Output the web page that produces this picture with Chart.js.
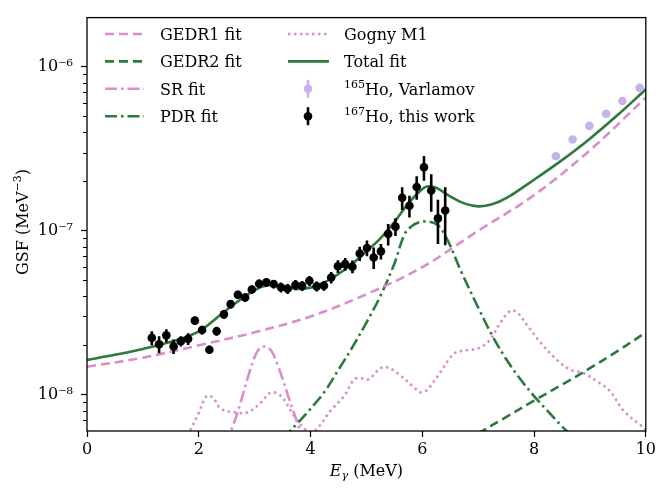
<!DOCTYPE html>
<html><head><meta charset="utf-8">
<script src="https://cdn.jsdelivr.net/npm/chart.js@4/dist/chart.umd.min.js"></script>
<style>html,body{margin:0;padding:0;background:#fff}</style>
</head><body>
<canvas id="c" width="659" height="489" style="width:659px;height:489px;display:block"></canvas>
<script>
// ---------- data ----------
const eExp = [1.16,1.29,1.42,1.55,1.68,1.81,1.93,2.06,2.19,2.32,2.45,2.57,2.70,2.83,2.95,3.08,3.21,3.34,3.47,3.59,3.73,3.85,3.98,4.11,4.24,4.37,4.49,4.62,4.75,4.88,5.01,5.13,5.26,5.39,5.52,5.64,5.77,5.90,6.03,6.16,6.28,6.41];
const gsfExp = [2.22e-8,2.03e-8,2.30e-8,1.97e-8,2.12e-8,2.19e-8,2.83e-8,2.48e-8,1.88e-8,2.44e-8,3.09e-8,3.57e-8,4.07e-8,3.92e-8,4.38e-8,4.75e-8,4.85e-8,4.73e-8,4.52e-8,4.43e-8,4.67e-8,4.61e-8,4.95e-8,4.58e-8,4.62e-8,5.19e-8,6.07e-8,6.26e-8,6.04e-8,7.26e-8,7.85e-8,6.87e-8,7.49e-8,9.57e-8,1.06e-7,1.59e-7,1.42e-7,1.85e-7,2.44e-7,1.76e-7,1.19e-7,1.33e-7];
const errExp = [2.2e-9,2.4e-9,2.1e-9,2.0e-9,1.5e-9,1.8e-9,1.6e-9,1.5e-9,1.1e-9,1.5e-9,1.9e-9,2.1e-9,2.4e-9,2.4e-9,2.6e-9,2.9e-9,2.9e-9,2.8e-9,3.2e-9,3.1e-9,3.3e-9,3.2e-9,3.5e-9,3.2e-9,3.2e-9,4.2e-9,5.5e-9,5.6e-9,5.4e-9,7.3e-9,8.6e-9,1.03e-8,8.2e-9,1.45e-8,1.31e-8,2.51e-8,2.14e-8,3.05e-8,4.17e-8,4.52e-8,3.58e-8,5.13e-8];

const eVarlamov = [8.39,8.69,8.99,9.29,9.58,9.89];
const gsfVarlamov = [2.85e-7,3.61e-7,4.37e-7,5.18e-7,6.19e-7,7.45e-7];

const eTotal = [0,0.5,1,1.5,2,2.5,3,3.25,3.5,3.75,4,4.25,4.5,4.75,5,5.25,5.5,5.75,6,6.1,6.25,6.5,6.75,7,7.25,7.5,8,8.5,9,9.5,10];
const gsfTotal = [1.63e-8,1.75e-8,1.9e-8,2.1e-8,2.43e-8,3.3e-8,4.35e-8,4.65e-8,4.55e-8,4.42e-8,4.5e-8,4.85e-8,5.45e-8,6.3e-8,7.5e-8,9.0e-8,1.13e-7,1.47e-7,1.80e-7,1.87e-7,1.83e-7,1.62e-7,1.47e-7,1.41e-7,1.45e-7,1.58e-7,2.05e-7,2.7e-7,3.65e-7,5.1e-7,7.3e-7];

const eGedr1 = [0,1,2,3,4,5,6,7,8,9,10];
const gsfGedr1 = [1.48e-8,1.68e-8,2.0e-8,2.4e-8,3.0e-8,4.1e-8,6.0e-8,1.0e-7,1.65e-7,3.1e-7,6.5e-7];

const eGedr2 = [7.0,7.5,8.0,8.5,9.0,9.5,10.0];
const gsfGedr2 = [5.8e-9,7.3e-9,9.2e-9,1.15e-8,1.45e-8,1.85e-8,2.4e-8];

const eSr = [2.45,2.6,2.75,2.9,3.0,3.1,3.2,3.3,3.4,3.5,3.6,3.7,3.8,3.9];
const gsfSr = [5.0e-9,6.3e-9,9.0e-9,1.35e-8,1.7e-8,1.93e-8,1.96e-8,1.85e-8,1.55e-8,1.25e-8,9.8e-9,7.8e-9,6.2e-9,5.0e-9];

const ePdr = [3.5,3.75,4.0,4.25,4.5,4.75,5.0,5.25,5.5,5.68,5.8,5.92,6.1,6.28,6.45,6.7,7.0,7.25,7.5,7.75,8.0,8.25,8.5,8.75];
const gsfPdr = [5.4e-9,6.6e-9,8.2e-9,1.04e-8,1.42e-8,1.95e-8,2.75e-8,4.0e-8,6.3e-8,9.5e-8,1.06e-7,1.12e-7,1.14e-7,1.08e-7,8.8e-8,5.6e-8,3.4e-8,2.3e-8,1.65e-8,1.25e-8,9.8e-9,7.9e-9,6.4e-9,5.3e-9];

const eGogny = [1.75,1.84,1.99,2.14,2.25,2.40,2.64,2.88,3.11,3.29,3.47,3.71,3.89,4.0,4.12,4.36,4.60,4.78,4.89,5.04,5.2,5.33,5.56,5.86,5.98,6.10,6.33,6.57,6.81,6.99,7.20,7.40,7.58,7.70,7.88,8.11,8.41,8.65,8.89,9.12,9.36,9.60,9.95,10.0];
const gsfGogny = [5.2e-9,6.0e-9,7.6e-9,9.8e-9,9.6e-9,8.2e-9,7.8e-9,7.8e-9,8.95e-9,1.03e-8,9.8e-9,7.4e-9,6.2e-9,5.9e-9,6.2e-9,8.0e-9,9.8e-9,1.24e-8,1.26e-8,1.24e-8,1.40e-8,1.48e-8,1.35e-8,1.10e-8,1.03e-8,1.08e-8,1.38e-8,1.78e-8,1.87e-8,1.91e-8,2.14e-8,2.76e-8,3.25e-8,3.17e-8,2.64e-8,2.09e-8,1.63e-8,1.42e-8,1.35e-8,1.21e-8,1.05e-8,7.98e-9,6.33e-9,6.1e-9];

const xTicks = [0,2,4,6,8,10];
const yMajor = [1e-8,1e-7,1e-6];
const yMajorLabels = ['10\u207B\u2078','10\u207B\u2077','10\u207B\u2076'];
const yMinor = [7e-9,8e-9,9e-9,2e-8,3e-8,4e-8,5e-8,6e-8,7e-8,8e-8,9e-8,2e-7,3e-7,4e-7,5e-7,6e-7,7e-7,8e-7,9e-7];

// ---------- styles ----------
const PINK = '#da8dcb', GREEN = '#2b7a3c', LAV = '#c5b2ea';
const FONT = '"DejaVu Serif", serif';
const LW = 2.6;

const xy = (xs, ys) => xs.map((x, i) => ({x: x, y: ys[i]}));
const errSegs = (xs, ys, es) => {
  const out = [];
  xs.forEach((x, i) => { out.push({x: x, y: ys[i] - es[i]}, {x: x, y: ys[i] + es[i]}, {x: x, y: null}); });
  return out;
};
const curve = (label, xs, ys, color, dash, order) => ({
  type: 'line', label: label, data: xy(xs, ys), borderColor: color, borderWidth: LW,
  borderDash: dash, borderCapStyle: 'butt', pointRadius: 0, fill: false,
  tension: 0.35, order: order
});

const datasets = [
  curve('GEDR1 fit', eGedr1, gsfGedr1, PINK, [9, 5], 5),
  curve('GEDR2 fit', eGedr2, gsfGedr2, GREEN, [9, 5], 5),
  curve('SR fit', eSr, gsfSr, PINK, [12, 4, 2.5, 4], 5),
  curve('PDR fit', ePdr, gsfPdr, GREEN, [12, 4, 2.5, 4], 5),
  curve('Gogny M1', eGogny, gsfGogny, PINK, [2.5, 3.5], 5),
  curve('Total fit', eTotal, gsfTotal, GREEN, [], 4),
  {type: 'line', label: '165|Ho, Varlamov', data: xy(eVarlamov, gsfVarlamov), showLine: false,
   pointRadius: 4.3, pointBackgroundColor: LAV, pointBorderWidth: 0, borderColor: LAV, order: 2, _marker: true},
  {type: 'line', label: '167|Ho, this work', data: xy(eExp, gsfExp), showLine: false,
   pointRadius: 4.3, pointBackgroundColor: '#000', pointBorderWidth: 0, borderColor: '#000', order: 0, _marker: true},
  {type: 'line', label: '_err', data: errSegs(eExp, gsfExp, errExp), spanGaps: false,
   borderColor: '#000', borderWidth: 2.6, pointRadius: 0, tension: 0, order: 1}
];

// ---------- plugin: frame, minor ticks, axis titles, legend ----------
const extras = {
  id: 'extras',
  afterDraw(chart) {
    const ctx = chart.ctx, a = chart.chartArea, ys = chart.scales.y;
    ctx.save();
    ctx.strokeStyle = '#000'; ctx.lineWidth = 1.3;
    ctx.strokeRect(a.left, a.top, a.right - a.left, a.bottom - a.top);
    ctx.lineWidth = 1;
    yMinor.forEach(v => {
      const p = Math.round(ys.getPixelForValue(v)) + 0.5;
      ctx.beginPath(); ctx.moveTo(a.left - 4, p); ctx.lineTo(a.left, p); ctx.stroke();
    });
    ctx.fillStyle = '#000';
    ctx.textBaseline = 'alphabetic';
    // y title
    ctx.save();
    ctx.translate(28, 222); ctx.rotate(-Math.PI / 2);
    const t1 = 'GSF (MeV', t2 = '\u22123', t3 = ')';
    ctx.font = '16px ' + FONT; const w1 = ctx.measureText(t1).width;
    ctx.font = '11px ' + FONT; const w2 = ctx.measureText(t2).width;
    ctx.font = '16px ' + FONT; const w3 = ctx.measureText(t3).width;
    let x0 = -(w1 + w2 + w3) / 2;
    ctx.textAlign = 'left';
    ctx.fillText(t1, x0, 0);
    ctx.font = '11px ' + FONT; ctx.fillText(t2, x0 + w1, -7);
    ctx.font = '16px ' + FONT; ctx.fillText(t3, x0 + w1 + w2, 0);
    ctx.restore();
    // x title
    ctx.textAlign = 'left';
    ctx.font = 'italic 16px ' + FONT; const e1 = ctx.measureText('E').width;
    ctx.font = 'italic 11px ' + FONT; const e2 = ctx.measureText('\u03B3').width;
    ctx.font = '16px ' + FONT; const e3 = ctx.measureText(' (MeV)').width;
    const cx = (a.left + a.right) / 2;
    let xs = cx - (e1 + e2 + e3) / 2, by = 476;
    ctx.font = 'italic 16px ' + FONT; ctx.fillText('E', xs, by);
    ctx.font = 'italic 11px ' + FONT; ctx.fillText('\u03B3', xs + e1, by + 3);
    ctx.font = '16px ' + FONT; ctx.fillText(' (MeV)', xs + e1 + e2, by);
    // legend
    const rows = [34, 61.4, 88.8, 116.2];
    const cols = [{x0: 105, x1: 144, tx: 160}, {x0: 288, x1: 329, tx: 344}];
    const items = chart.data.datasets.filter(d => d.label !== '_err');
    items.forEach((d, i) => {
      const col = cols[Math.floor(i / 4)], y = rows[i % 4];
      ctx.save();
      if (d._marker) {
        const mx = (col.x0 + col.x1) / 2 - 0.5;
        ctx.strokeStyle = d.pointBackgroundColor; ctx.lineWidth = 2.6;
        ctx.beginPath(); ctx.moveTo(mx, y - 9); ctx.lineTo(mx, y + 9); ctx.stroke();
        ctx.fillStyle = d.pointBackgroundColor;
        ctx.beginPath(); ctx.arc(mx, y, 4.3, 0, Math.PI * 2); ctx.fill();
      } else {
        ctx.strokeStyle = d.borderColor; ctx.lineWidth = LW; ctx.lineCap = 'butt';
        ctx.setLineDash(d.borderDash || []);
        ctx.beginPath(); ctx.moveTo(col.x0, y); ctx.lineTo(col.x1, y); ctx.stroke();
      }
      ctx.restore();
      ctx.fillStyle = '#000'; ctx.textAlign = 'left';
      const parts = d.label.split('|');
      let tx = col.tx;
      if (parts.length === 2) {
        ctx.font = '11px ' + FONT; ctx.fillText(parts[0], tx, y - 1);
        tx += ctx.measureText(parts[0]).width;
        ctx.font = '16px ' + FONT; ctx.fillText(parts[1], tx, y + 6);
      } else {
        ctx.font = '16px ' + FONT; ctx.fillText(parts[0], tx, y + 6);
      }
    });
    ctx.restore();
  }
};

new Chart(document.getElementById('c'), {
  type: 'line',
  data: {datasets: datasets},
  options: {
    responsive: false, animation: false, devicePixelRatio: 1,
    layout: {padding: {top: 10, right: 10, left: 0, bottom: 0}},
    plugins: {legend: {display: false}, tooltip: {enabled: false}},
    scales: {
      x: {
        type: 'linear', min: 0, max: 10,
        afterBuildTicks: s => { s.ticks = xTicks.map(v => ({value: v})); },
        afterFit: s => { s.height = 58; },
        ticks: {color: '#000', font: {family: FONT, size: 16}, padding: 3, maxRotation: 0},
        grid: {display: true, drawOnChartArea: false, drawTicks: true, tickLength: 6, color: '#000', tickColor: '#000', tickWidth: 1.2},
        border: {display: false}
      },
      y: {
        type: 'logarithmic', min: 6e-9, max: 2e-6,
        afterBuildTicks: s => { s.ticks = yMajor.map(v => ({value: v, major: true})); },
        afterFit: s => { s.width = 87; },
        ticks: {color: '#000', font: {family: FONT, size: 16}, padding: 8,
          callback: (v) => { const i = yMajor.findIndex(m => Math.abs(m - v) / m < 1e-6); return i >= 0 ? yMajorLabels[i] : ''; }},
        grid: {display: true, drawOnChartArea: false, drawTicks: true, tickLength: 6, color: '#000', tickColor: '#000', tickWidth: 1.2},
        border: {display: false}
      }
    }
  },
  plugins: [extras]
});
</script>
</body></html>
